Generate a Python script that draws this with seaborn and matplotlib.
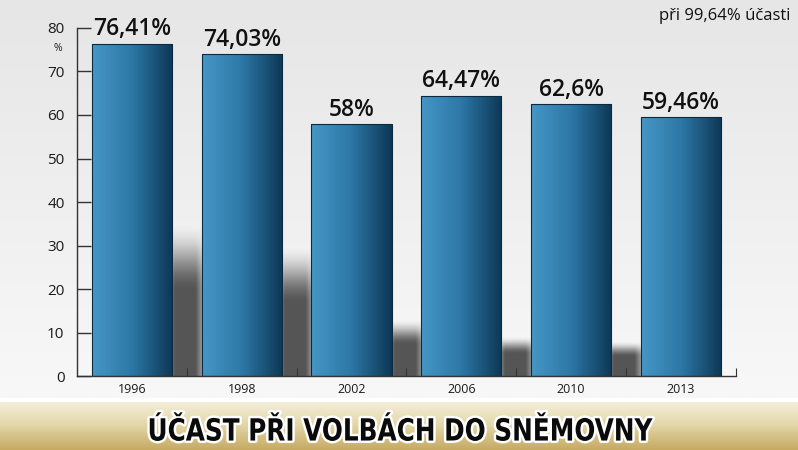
import numpy as np
import pandas as pd
import matplotlib
matplotlib.use("Agg")
import matplotlib.pyplot as plt
import matplotlib.patheffects as pe
from matplotlib.colors import LinearSegmentedColormap
from matplotlib.transforms import Affine2D
import seaborn as sns

# data
years = ["1996", "1998", "2002", "2006", "2010", "2013"]
turnout = [76.41, 74.03, 58.0, 64.47, 62.6, 59.46]
value_labels = ["76,41%", "74,03%", "58%", "64,47%", "62,6%", "59,46%"]
y_ticks = [0, 10, 20, 30, 40, 50, 60, 70, 80]
note = "při 99,64% účasti"
title = "ÚČAST PŘI VOLBÁCH DO SNĚMOVNY"

# decorative shadow heights in the gaps between bars (background photo)
shadow_tops = [35, 30, 13, 9, 8]

df = pd.DataFrame({"rok": years, "ucast": turnout})


class SqueezedStroke(pe.AbstractPathEffect):
    """draw text narrower (condensed look) with a white outline"""

    def __init__(self, sx=0.9, lw=3.5, fg="white"):
        super().__init__()
        self.sx = sx
        self.lw = lw
        self.fg = fg

    def draw_path(self, renderer, gc, tpath, affine, rgbFace=None):
        ext = tpath.get_extents()
        cx = (ext.x0 + ext.x1) / 2
        t = Affine2D().translate(-cx, 0).scale(self.sx, 1).translate(cx, 0) + affine
        gc0 = renderer.new_gc()
        gc0.copy_properties(gc)
        gc0.set_linewidth(self.lw)
        gc0.set_foreground(self.fg)
        gc0.set_joinstyle("round")
        renderer.draw_path(gc0, tpath, t, rgbFace)
        gc0.restore()
        renderer.draw_path(gc, tpath, t, rgbFace)


sns.set_theme(style="white")
plt.rcParams["font.family"] = ["Open Sans", "DejaVu Sans"]

fig = plt.figure(figsize=(7.98, 4.5), dpi=100)

# background: light grey above, beige band at the bottom
bg = fig.add_axes([0, 0, 1, 1], zorder=-10)
bg.set_axis_off()
bg.set_xlim(0, 1)
bg.set_ylim(0, 1)
vgrad = np.linspace(0, 1, 200).reshape(-1, 1)
grey = LinearSegmentedColormap.from_list("grey", ["#f8f8f8", "#efefef", "#e6e6e6"])
bg.imshow(vgrad, extent=[0, 1, 0.115, 1], origin="lower", cmap=grey,
          aspect="auto")
band = LinearSegmentedColormap.from_list("band", ["#c6aa62", "#e3d6a8", "#f6f1df"])
bg.imshow(vgrad, extent=[0, 1, 0, 0.11], origin="lower", cmap=band,
          aspect="auto")
bg.axhline(0.112, color="#ffffff", lw=2)

ax = fig.add_axes([0.0965, 0.1644, 0.8255, 0.7734])
ax.set_facecolor("none")

sns.barplot(data=df, x="rok", y="ucast", ax=ax, width=0.73,
            color="#2a6c96", edgecolor="#0b2a40", linewidth=0.8,
            saturation=1)

# soft shadows behind the bars (only visible in the gaps)
ny, nx = 160, 40
f = np.linspace(0, 1, ny)
s = np.clip((1 - f) / 0.45, 0, 1)
fade_top = s * s * (3 - 2 * s)
xx = np.linspace(0, 1, nx)
fade_x = np.clip((1 - xx) / 0.35, 0, 1) * np.clip(xx / 0.15, 0, 1) ** 0.5
for i, top in enumerate(shadow_tops):
    rgba = np.zeros((ny, nx, 4))
    rgba[..., :3] = 0.22
    rgba[..., 3] = 0.85 * fade_top[:, None] * fade_x[None, :]
    ax.imshow(rgba, extent=[i + 0.33, i + 0.72, 0, top], origin="lower",
              aspect="auto", zorder=0.5, interpolation="bilinear")

bar_cmap = LinearSegmentedColormap.from_list("bar", ["#4697c6", "#2c77a6", "#0d3856"])
hgrad = np.linspace(0, 1, 100).reshape(1, -1)
for p in ax.patches:
    x0, w, h = p.get_x(), p.get_width(), p.get_height()
    p.set_zorder(2)
    im = ax.imshow(hgrad, extent=[x0, x0 + w, 0, h], cmap=bar_cmap,
                   aspect="auto", zorder=1.9)
    im.set_clip_path(p)
    p.set_facecolor("none")

for i, (v, lab) in enumerate(zip(turnout, value_labels)):
    ax.text(i, v + 0.5, lab, ha="center", va="bottom", fontsize=16.5,
            fontweight="semibold", color="#111111")

ax.set_xlim(-0.5, 5.5)
ax.set_ylim(0, 80)
ax.set_yticks(y_ticks)
ax.set_xlabel("")
ax.set_ylabel("")

for sp in ["top", "right"]:
    ax.spines[sp].set_visible(False)
for sp in ["left", "bottom"]:
    ax.spines[sp].set_color("#333333")
    ax.spines[sp].set_linewidth(1)

ax.tick_params(axis="y", direction="in", length=10, width=1, color="#333333",
               labelsize=11, labelcolor="#1a1a1a", pad=9, left=True)
ax.tick_params(axis="x", length=0, labelsize=9, labelcolor="#1a1a1a", pad=5)
ax.set_xticks(np.arange(0.5, 6, 1), minor=True)
ax.tick_params(axis="x", which="minor", direction="in", length=6, width=0.8,
               color="#333333", bottom=True)

fig.text(0.072, 0.893, "%", ha="center", va="center", fontsize=7.5,
         color="#222222")
fig.text(0.991, 0.964, note, ha="right", va="center", fontsize=12,
         color="#111111")

fig.text(0.5, 0.021, title, ha="center", va="baseline", fontsize=22,
         fontweight="bold", fontstretch="condensed", color="#0a0a0a",
         family="DejaVu Sans",
         path_effects=[SqueezedStroke(sx=0.9, lw=3.5)])

fig.savefig("out.png", dpi=100)
